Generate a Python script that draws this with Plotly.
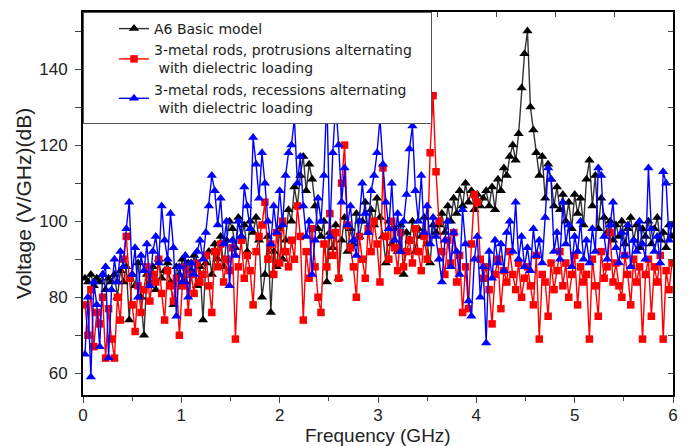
import plotly.graph_objects as go

# frequency grid (GHz)
freq = [round(0.02 + 0.03 * i, 2) for i in range(200)]

basic_model = [
    85, 84, 86, 83, 85, 84, 86, 82, 85, 84,
    86, 80, 87, 84, 88, 74, 86, 83, 89, 80,
    70, 86, 84, 88, 82, 90, 85, 87, 89, 84,
    78, 88, 86, 90, 84, 89, 87, 91, 83, 88,
    74, 89, 92, 86, 94, 90, 96, 88, 95, 100,
    98, 93, 101, 96, 99, 92, 100, 97, 101, 95,
    80, 86, 96, 76, 92, 88, 98, 90, 95, 103,
    100, 109, 104, 112, 117, 108, 115, 111, 104, 98,
    96, 100, 84, 97, 93, 99, 85, 95, 101, 92,
    98, 94, 102, 96, 100, 105, 97, 103, 99, 106,
    101, 96, 89, 100, 94, 98, 92, 99, 86, 97,
    95, 100, 92, 98, 96, 101, 94, 89, 99, 97,
    99, 102, 97, 104, 100, 106, 102, 108, 104, 110,
    105, 108, 103, 107, 104, 106, 108, 104, 109, 103,
    111, 108, 114, 112, 117, 120, 116, 123, 135, 144,
    150, 130, 124, 118, 112, 117, 106, 115, 111, 104,
    109, 103, 107, 100, 105, 98, 107, 102, 106, 99,
    111, 116, 104, 112, 98, 106, 101, 97, 100, 95,
    99, 96, 100, 94, 98, 101, 95, 99, 93, 98,
    96, 100, 94, 98, 101, 95, 97, 93, 99, 96,
]

protrusions = [
    78, 70, 82, 67, 76, 73, 80, 64, 77, 69,
    64, 80, 74, 90, 96, 85, 78, 71, 83, 76,
    82, 88, 79, 86, 84, 90, 81, 74, 87, 83,
    79, 85, 70, 83, 88, 76, 86, 81, 89, 84,
    86, 91, 83, 76, 92, 88, 94, 84, 90, 87,
    93, 69, 88, 95, 85, 91, 87, 78, 92, 96,
    99, 105, 90, 94, 86, 97, 89, 100, 92, 88,
    95, 90, 104, 96, 74, 92, 85, 98, 88, 80,
    76, 94, 88, 102, 91, 97, 85, 110, 120, 99,
    93, 88, 80, 96, 90, 85, 98, 92, 100, 94,
    84, 114, 96, 90, 100, 93, 87, 97, 88, 92,
    95, 89, 98, 92, 87, 96, 90, 118, 133, 113,
    100, 92, 86, 95, 89, 97, 84, 91, 76, 88,
    77, 94, 107, 105, 90, 85, 88, 82, 73, 86,
    90, 77, 87, 84, 92, 86, 82, 89, 80, 85,
    88, 83, 78, 91, 69, 86, 84, 75, 89, 82,
    87, 92, 83, 89, 80, 86, 91, 78, 88, 84,
    86, 69, 90, 83, 75, 92, 85, 88, 97, 84,
    89, 83, 80, 91, 86, 78, 90, 84, 88, 69,
    86, 90, 75, 88, 84, 91, 69, 87, 82, 89,
]

recessions = [
    65, 80, 59, 84, 78, 67, 86, 88, 64, 82,
    90, 84, 92, 88, 98, 105, 86, 93, 80, 91,
    87, 94, 83, 92, 96, 89, 104, 95, 90, 102,
    93, 75, 88, 84, 91, 80, 89, 86, 92, 95,
    90, 97, 104, 112, 108, 99, 106, 94, 100, 83,
    95, 91, 100, 96, 109, 104, 98, 122, 115, 106,
    118, 110, 100, 94, 104, 97, 108, 99, 112, 118,
    120, 127, 110, 117, 104, 96, 100, 86, 95, 106,
    100, 112, 133, 96, 118, 131, 120, 105, 114, 99,
    104, 95, 91, 100, 110, 102, 97, 108, 112, 118,
    127, 115, 105, 98, 110, 95, 102, 92, 100, 107,
    119, 125, 108, 100, 112, 97, 104, 94, 101, 96,
    90, 84, 95, 100, 88, 97, 92, 86, 103, 94,
    79, 75, 90, 96, 80, 88, 68, 92, 85, 95,
    89, 94, 87, 97, 100, 92, 105, 90, 96, 88,
    93, 87, 98, 91, 95, 89, 101, 114, 111, 92,
    97, 90, 105, 94, 99, 88, 96, 92, 100, 90,
    95, 89, 98, 92, 114, 112, 96, 90, 99, 105,
    93, 89, 97, 91, 99, 88, 95, 92, 100, 94,
    90, 114, 98, 92, 96, 89, 113, 110, 95, 99,
]

names = [
    "A6 Basic model",
    "3-metal rods, protrusions alternating&nbsp;&nbsp;&nbsp;<br> with dielectric loading",
    "3-metal rods, recessions alternating<br> with dielectric loading",
]
x_title = "Frequency (GHz)"
y_title = "Voltage (V/GHz)(dB)"
x_ticks = [0, 1, 2, 3, 4, 5, 6]
top_ticks = [0.6, 1.2, 1.8, 2.4, 3.0, 3.6, 4.2, 4.8, 5.4]
y_ticks = [60, 80, 100, 120, 140]
y_minor_ticks = [70, 90, 110, 130, 150]

fig = go.Figure()
fig.add_trace(go.Scatter(
    x=freq, y=basic_model, name=names[0], mode="lines+markers",
    line=dict(color="#333333", width=1.4),
    marker=dict(symbol="triangle-up", size=9, color="black"),
))
fig.add_trace(go.Scatter(
    x=freq, y=protrusions, name=names[1], mode="lines+markers",
    line=dict(color="#ff0000", width=1.4),
    marker=dict(symbol="square", size=7.5, color="#ff0000"),
))
fig.add_trace(go.Scatter(
    x=freq, y=recessions, name=names[2], mode="lines+markers",
    line=dict(color="#0000ff", width=1.4),
    marker=dict(symbol="triangle-up", size=9, color="#0000ff"),
))
# invisible helpers so the mirrored top/right axes get drawn
fig.add_trace(go.Scatter(x=[None], y=[None], xaxis="x2", showlegend=False, hoverinfo="skip"))
fig.add_trace(go.Scatter(x=[None], y=[None], yaxis="y2", showlegend=False, hoverinfo="skip"))

tick_font = dict(family="Liberation Sans, Arial, sans-serif", size=17, color="#222222")
title_font = dict(family="Liberation Sans, Arial, sans-serif", size=19, color="#222222")

fig.update_layout(
    width=691, height=446,
    margin=dict(l=83, r=18, t=12, b=51, autoexpand=False),
    paper_bgcolor="white", plot_bgcolor="white",
    showlegend=True,
    legend=dict(
        x=0, y=1, xanchor="left", yanchor="top",
        bgcolor="white", bordercolor="#555555", borderwidth=1,
        font=dict(family="DejaVu Sans, sans-serif", size=14, color="#222222"),
        tracegroupgap=0, itemwidth=30, indentation=30,
    ),
    xaxis=dict(
        range=[0, 6], tickvals=x_ticks, ticks="outside", ticklen=6, tickwidth=1.3,
        minor=dict(dtick=0.5, ticks="outside", ticklen=4, tickwidth=1.3, showgrid=False),
        showgrid=False, zeroline=False, showline=True, linecolor="black", linewidth=1.8,
        mirror=True, tickfont=tick_font, automargin=False, ticklabelstandoff=-2,
    ),
    xaxis2=dict(
        range=[0, 6], overlaying="x", side="top", tickvals=top_ticks, ticks="inside",
        ticklen=5, tickwidth=1.3, showticklabels=False, showgrid=False, zeroline=False,
        showline=False, automargin=False,
    ),
    yaxis=dict(
        range=[54.3, 155], tickvals=y_ticks, ticks="outside", ticklen=6, tickwidth=1.3,
        minor=dict(tickvals=y_minor_ticks, ticks="outside", ticklen=6, tickwidth=1.3, showgrid=False),
        showgrid=False, zeroline=False, showline=True, linecolor="black", linewidth=1.8,
        mirror=True, tickfont=tick_font, automargin=False, ticklabelstandoff=4,
        title=dict(text=y_title, font=dict(title_font, size=21), standoff=2),
    ),
    yaxis2=dict(
        range=[54.3, 155], overlaying="y", side="right", dtick=10, tick0=0, ticks="inside",
        ticklen=5, tickwidth=1.3, showticklabels=False, showgrid=False, zeroline=False,
        showline=False, automargin=False,
    ),
    annotations=[dict(
        text=x_title, xref="paper", yref="paper", x=0.5, y=0,
        xanchor="center", yanchor="top", yshift=-29, showarrow=False,
        font=title_font, borderpad=0,
    )],
)

fig.write_html("out.html", config={"displayModeBar": False},
               post_script="document.body.style.margin='0';")
